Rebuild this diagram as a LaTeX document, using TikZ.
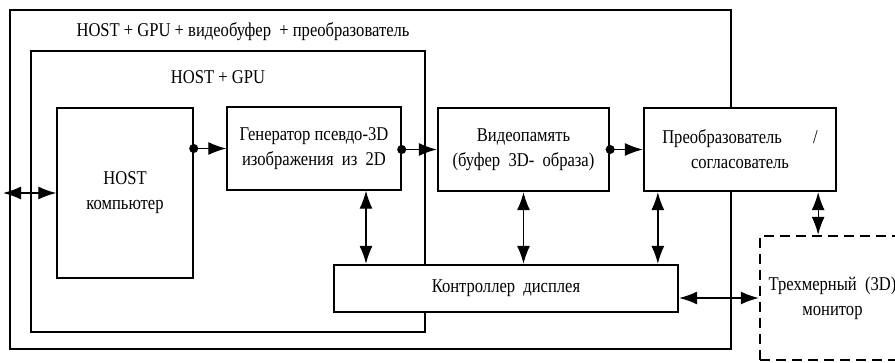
\documentclass[tikz,border=0pt]{standalone}
\usepackage{fontspec}
\setmainfont{Liberation Serif}[FakeStretch=0.85]
\usetikzlibrary{arrows.meta}

\tikzset{
  frame/.style={draw,line width=1.1pt,inner sep=0pt},
  thinbox/.style={draw,line width=1.4pt,fill=white,align=center,inner sep=0pt},
  thickbox/.style={draw,line width=2.3pt,fill=white,align=center,inner sep=0pt},
  dashbox/.style={draw,line width=2.5pt,dash pattern=on 10pt off 6pt,align=center,inner sep=0pt},
  tip/.tip={Latex[length=18pt,width=13pt]},
  dbl/.style={{tip}-{tip},line width=1.3pt},
  flow/.style={{Circle[length=9pt]}-{tip},line width=1.3pt,shorten <=-4.5pt},
  lbl/.style={inner sep=0pt}
}

\begin{document}
\begin{tikzpicture}[x=1pt,y=-1pt,font=\fontsize{19.5}{25}\selectfont]
\useasboundingbox (0,0) rectangle (895,362);
\clip (0,0) rectangle (895,362);
\node[frame,minimum width=721pt,minimum height=339pt] (outer) at (370.5,179.5) {};
\node[frame,minimum width=394pt,minimum height=281pt] (inner) at (228,191.5) {};
\node[lbl] (outertxt) at (243,32) {HOST + GPU + видеобуфер \ + преобразователь};
\node[lbl] (innertxt) at (218,77) {HOST + GPU};

\node[thinbox,minimum width=136pt,minimum height=170pt] (host) at (125,193) {HOST\\компьютер};
\node[thinbox,minimum width=174pt,minimum height=83pt] (gen) at (314,148.5) {Генератор псевдо-3D\\изображения \ из \ 2D};
\node[thickbox,minimum width=171pt,minimum height=83pt] (video) at (523.5,149.5) {Видеопамять\\(буфер \ 3D- \ образа)};
\node[thickbox,minimum width=192pt,minimum height=83pt] (conv) at (740,149.5) {Преобразователь\hspace{1.6em}/\\согласователь};
\node[thickbox,minimum width=344pt,minimum height=47pt] (ctrl) at (506,288.5) {Контроллер \ дисплея};
\node[dashbox,minimum width=145pt,minimum height=124pt] (mon) at (832.5,298) {Трехмерный \ (3D)\\монитор};

\coordinate (ext) at (3,193);
\draw[dbl] (ext) -- (host.west);
\draw[flow] (host.east |- gen.west) -- (gen.west);
\draw[flow] (gen.east |- video.west) -- (video.west);
\draw[flow] (video.east) -- (conv.west);
\draw[dbl] ([xshift=52pt]gen.south) -- ([xshift=52pt]gen.south |- ctrl.north);
\draw[dbl] (video.south) -- (video.south |- ctrl.north);
\draw[dbl] ([xshift=15pt]conv.south west) -- ([xshift=15pt]conv.south west |- ctrl.north);
\draw[dbl] ([xshift=-19pt]conv.south east) -- ([xshift=-19pt]conv.south east |- mon.north);
\draw[dbl] (ctrl.east |- mon.west) -- (mon.west);
\end{tikzpicture}
\end{document}
